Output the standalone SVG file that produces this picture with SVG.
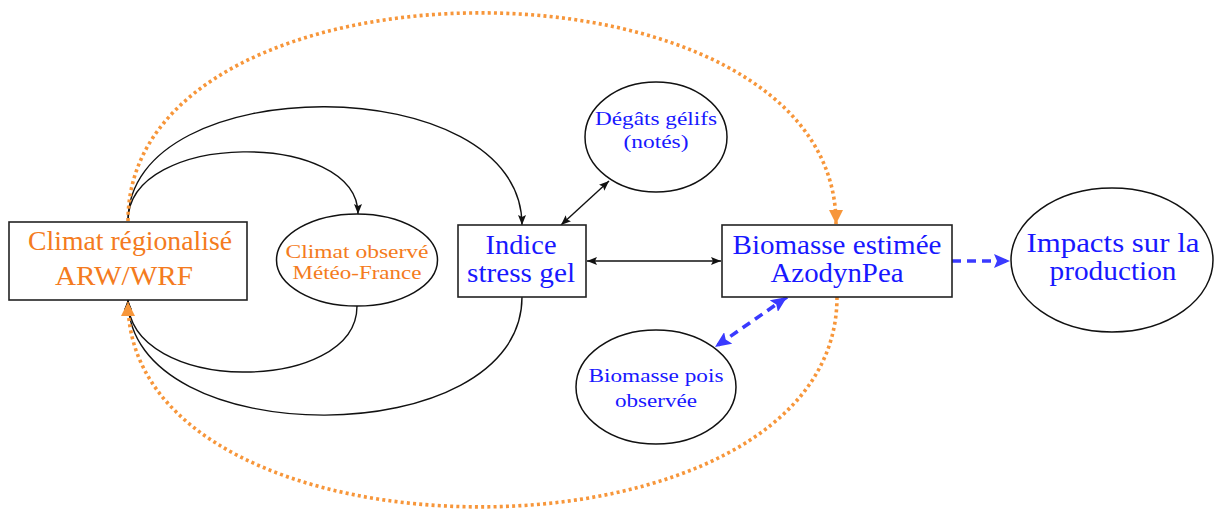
<svg xmlns="http://www.w3.org/2000/svg" width="1214" height="511" viewBox="0 0 1214 511">
<style>
.box{fill:#fff;stroke:#222;stroke-width:1.6}
.ell{fill:#fff;stroke:#111;stroke-width:1.5}
text{font-family:"Liberation Serif","DejaVu Serif",serif;text-anchor:middle}
.or{fill:#F47B20}
.bl{fill:#1818FF}
.big{font-size:27px}
.mid{font-size:22px}
.sm{font-size:19px}
.blk{fill:none;stroke:#111;stroke-width:1.4}
.dot{fill:none;stroke:#F7963A;stroke-width:3.6;stroke-dasharray:3 3.2}
.dash{fill:none;stroke:#3A3AFF;stroke-width:3.6;stroke-dasharray:9 6}
</style>
<defs>
<marker id="ab" viewBox="0 0 10 8" markerWidth="10" markerHeight="8" refX="10" refY="4" orient="auto-start-reverse" markerUnits="userSpaceOnUse"><path d="M0,0 L10,4 L0,8 L2,4 z" fill="#111"/></marker>
<marker id="ao" viewBox="0 0 14 14" markerWidth="14" markerHeight="14" refX="14" refY="7" orient="auto-start-reverse" markerUnits="userSpaceOnUse"><path d="M0,0 L14,7 L0,14 z" fill="#F7963A"/></marker>
<marker id="au" viewBox="0 0 16 14" markerWidth="16" markerHeight="14" refX="16" refY="7" orient="auto-start-reverse" markerUnits="userSpaceOnUse"><path d="M0,0 L16,7 L0,14 L3,7 z" fill="#3A3AFF"/></marker>
</defs>
<g id="connectors">
<path class="blk" d="M128,221 C128,130 358,130 358,214" marker-end="url(#ab)"/>
<path class="blk" d="M128,221 C128,68 522,68 522,225" marker-end="url(#ab)"/>
<path class="blk" d="M357,306 C357,395 128,395 128,300" marker-end="url(#ab)"/>
<path class="blk" d="M522,297 C522,454 128,454 128,300" marker-end="url(#ab)"/>
<path class="blk" d="M587,261 L721,261" marker-start="url(#ab)" marker-end="url(#ab)"/>
<path class="blk" d="M561,225 L609,181" marker-start="url(#ab)" marker-end="url(#ab)"/>
<path class="dot" d="M128,221 C128,-57 836,-57 836,224" marker-end="url(#ao)"/>
<path class="dot" d="M837,297 C837,576 128,576 128,302" marker-end="url(#ao)"/>
<path class="dash" d="M952,261 L1010,261" marker-end="url(#au)"/>
<path class="dash" d="M787,297 L715,347" marker-start="url(#au)" marker-end="url(#au)"/>
</g>
<g id="climat-regionalise">
<rect class="box" x="9" y="222" width="238" height="78"/>
<text class="or big" x="130" y="250" textLength="204" lengthAdjust="spacingAndGlyphs">Climat régionalisé</text>
<text class="or big" x="124" y="285" textLength="138" lengthAdjust="spacingAndGlyphs">ARW/WRF</text>
</g>
<g id="climat-observe">
<ellipse class="ell" cx="357" cy="260" rx="80.5" ry="46"/>
<text class="or sm" x="357" y="258" textLength="143" lengthAdjust="spacingAndGlyphs">Climat observé</text>
<text class="or sm" x="357" y="279" textLength="129" lengthAdjust="spacingAndGlyphs">Météo-France</text>
</g>
<g id="indice">
<rect class="box" x="458" y="225" width="128" height="72"/>
<text class="bl big" x="521" y="254" textLength="71" lengthAdjust="spacingAndGlyphs">Indice</text>
<text class="bl big" x="521" y="282" textLength="108" lengthAdjust="spacingAndGlyphs">stress gel</text>
</g>
<g id="degats">
<ellipse class="ell" cx="656" cy="137" rx="71" ry="55"/>
<text class="bl sm" x="656" y="125" textLength="122" lengthAdjust="spacingAndGlyphs">Dégâts gélifs</text>
<text class="bl sm" x="656" y="148" textLength="65" lengthAdjust="spacingAndGlyphs">(notés)</text>
</g>
<g id="biomasse-estimee">
<rect class="box" x="722" y="225" width="230" height="72"/>
<text class="bl big" x="837" y="254" textLength="209" lengthAdjust="spacingAndGlyphs">Biomasse estimée</text>
<text class="bl big" x="837" y="282" textLength="133" lengthAdjust="spacingAndGlyphs">AzodynPea</text>
</g>
<g id="biomasse-pois">
<ellipse class="ell" cx="656" cy="387" rx="80" ry="57"/>
<text class="bl sm" x="656" y="382" textLength="135" lengthAdjust="spacingAndGlyphs">Biomasse pois</text>
<text class="bl sm" x="656" y="407" textLength="82" lengthAdjust="spacingAndGlyphs">observée</text>
</g>
<g id="impacts">
<ellipse class="ell" cx="1112" cy="260" rx="101" ry="72"/>
<text class="bl big" x="1113" y="252" textLength="173" lengthAdjust="spacingAndGlyphs">Impacts sur la</text>
<text class="bl big" x="1113" y="280" textLength="127" lengthAdjust="spacingAndGlyphs">production</text>
</g>
</svg>
